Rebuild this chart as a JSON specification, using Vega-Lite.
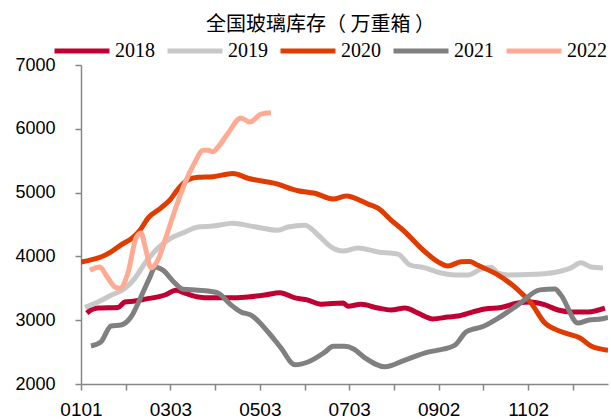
{
  "$schema": "https://vega.github.io/schema/vega-lite/v6.json",
  "width": 527,
  "height": 319,
  "autosize": {"type": "none"},
  "padding": {"left": 81, "top": 65, "right": 3, "bottom": 35},
  "background": "white",
  "title": {"text": "全国玻璃库存（ 万重箱 ）", "font": "Noto Sans CJK SC", "fontSize": 20, "fontWeight": "normal", "color": "#000000", "anchor": "middle", "dx": -24, "offset": -14},
  "config": {"view": {"stroke": null}},
  "data": {"values": [
    {"year": "2018", "d": 4, "v": 3110}, {"year": "2018", "d": 6.8, "v": 3160}, {"year": "2018", "d": 11.6, "v": 3190}, {"year": "2018", "d": 25.2, "v": 3200}, {"year": "2018", "d": 30, "v": 3285}, {"year": "2018", "d": 36.8, "v": 3300}, {"year": "2018", "d": 43.7, "v": 3330}, {"year": "2018", "d": 57.3, "v": 3395}, {"year": "2018", "d": 64.8, "v": 3470}, {"year": "2018", "d": 70.9, "v": 3425}, {"year": "2018", "d": 79.8, "v": 3365}, {"year": "2018", "d": 88.7, "v": 3350}, {"year": "2018", "d": 100.3, "v": 3350}, {"year": "2018", "d": 113.9, "v": 3365}, {"year": "2018", "d": 125.5, "v": 3395}, {"year": "2018", "d": 135.7, "v": 3430}, {"year": "2018", "d": 146, "v": 3350}, {"year": "2018", "d": 154.8, "v": 3315}, {"year": "2018", "d": 163.7, "v": 3250}, {"year": "2018", "d": 178.7, "v": 3270}, {"year": "2018", "d": 182.1, "v": 3220}, {"year": "2018", "d": 191, "v": 3250}, {"year": "2018", "d": 202.6, "v": 3190}, {"year": "2018", "d": 211.5, "v": 3160}, {"year": "2018", "d": 221, "v": 3190}, {"year": "2018", "d": 229.9, "v": 3110}, {"year": "2018", "d": 240.1, "v": 3020}, {"year": "2018", "d": 250.3, "v": 3050}, {"year": "2018", "d": 257.2, "v": 3065}, {"year": "2018", "d": 267.4, "v": 3130}, {"year": "2018", "d": 275.6, "v": 3175}, {"year": "2018", "d": 286.5, "v": 3200}, {"year": "2018", "d": 298.1, "v": 3270}, {"year": "2018", "d": 307, "v": 3285}, {"year": "2018", "d": 316.5, "v": 3240}, {"year": "2018", "d": 325.4, "v": 3160}, {"year": "2018", "d": 334.2, "v": 3130}, {"year": "2018", "d": 345.8, "v": 3130}, {"year": "2018", "d": 357.4, "v": 3190},
    {"year": "2019", "d": 2.7, "v": 3200}, {"year": "2019", "d": 11.6, "v": 3285}, {"year": "2019", "d": 20.5, "v": 3390}, {"year": "2019", "d": 30, "v": 3500}, {"year": "2019", "d": 36.8, "v": 3660}, {"year": "2019", "d": 43.7, "v": 3895}, {"year": "2019", "d": 52.5, "v": 4130}, {"year": "2019", "d": 61.4, "v": 4285}, {"year": "2019", "d": 70.9, "v": 4380}, {"year": "2019", "d": 79.8, "v": 4460}, {"year": "2019", "d": 90, "v": 4475}, {"year": "2019", "d": 103.7, "v": 4520}, {"year": "2019", "d": 116, "v": 4475}, {"year": "2019", "d": 134.4, "v": 4410}, {"year": "2019", "d": 141.2, "v": 4460}, {"year": "2019", "d": 152.8, "v": 4490}, {"year": "2019", "d": 161.7, "v": 4335}, {"year": "2019", "d": 170.5, "v": 4150}, {"year": "2019", "d": 178.7, "v": 4085}, {"year": "2019", "d": 188.9, "v": 4130}, {"year": "2019", "d": 202.6, "v": 4070}, {"year": "2019", "d": 216.2, "v": 4035}, {"year": "2019", "d": 224.4, "v": 3865}, {"year": "2019", "d": 234.7, "v": 3820}, {"year": "2019", "d": 245.6, "v": 3740}, {"year": "2019", "d": 255.1, "v": 3710}, {"year": "2019", "d": 264, "v": 3710}, {"year": "2019", "d": 272.9, "v": 3800}, {"year": "2019", "d": 279.7, "v": 3830}, {"year": "2019", "d": 284.4, "v": 3740}, {"year": "2019", "d": 291.3, "v": 3710}, {"year": "2019", "d": 309.7, "v": 3720}, {"year": "2019", "d": 320.6, "v": 3740}, {"year": "2019", "d": 334.2, "v": 3820}, {"year": "2019", "d": 341.1, "v": 3900}, {"year": "2019", "d": 347.9, "v": 3835}, {"year": "2019", "d": 356.1, "v": 3820},
    {"year": "2020", "d": 0, "v": 3910}, {"year": "2020", "d": 6.8, "v": 3945}, {"year": "2020", "d": 13.6, "v": 3990}, {"year": "2020", "d": 20.5, "v": 4070}, {"year": "2020", "d": 27.3, "v": 4180}, {"year": "2020", "d": 35.5, "v": 4300}, {"year": "2020", "d": 40.2, "v": 4410}, {"year": "2020", "d": 45.7, "v": 4600}, {"year": "2020", "d": 54.6, "v": 4760}, {"year": "2020", "d": 60.7, "v": 4885}, {"year": "2020", "d": 66.2, "v": 5055}, {"year": "2020", "d": 73, "v": 5200}, {"year": "2020", "d": 79.8, "v": 5240}, {"year": "2020", "d": 90, "v": 5250}, {"year": "2020", "d": 103.7, "v": 5300}, {"year": "2020", "d": 113.9, "v": 5225}, {"year": "2020", "d": 132.3, "v": 5145}, {"year": "2020", "d": 148, "v": 5030}, {"year": "2020", "d": 159.6, "v": 4990}, {"year": "2020", "d": 171.9, "v": 4900}, {"year": "2020", "d": 180.8, "v": 4945}, {"year": "2020", "d": 195.8, "v": 4820}, {"year": "2020", "d": 202.6, "v": 4755}, {"year": "2020", "d": 211.5, "v": 4570}, {"year": "2020", "d": 221, "v": 4385}, {"year": "2020", "d": 231.9, "v": 4130}, {"year": "2020", "d": 243.5, "v": 3915}, {"year": "2020", "d": 250.3, "v": 3850}, {"year": "2020", "d": 259.2, "v": 3915}, {"year": "2020", "d": 265.3, "v": 3920}, {"year": "2020", "d": 270.8, "v": 3860}, {"year": "2020", "d": 284.4, "v": 3710}, {"year": "2020", "d": 298.1, "v": 3475}, {"year": "2020", "d": 307, "v": 3270}, {"year": "2020", "d": 316.5, "v": 2955}, {"year": "2020", "d": 323.3, "v": 2860}, {"year": "2020", "d": 332.2, "v": 2785}, {"year": "2020", "d": 340.4, "v": 2720}, {"year": "2020", "d": 347.9, "v": 2595}, {"year": "2020", "d": 359.5, "v": 2530},
    {"year": "2021", "d": 6.8, "v": 2595}, {"year": "2021", "d": 13.6, "v": 2660}, {"year": "2021", "d": 20.5, "v": 2910}, {"year": "2021", "d": 27.3, "v": 2925}, {"year": "2021", "d": 34.1, "v": 3050}, {"year": "2021", "d": 40.9, "v": 3365}, {"year": "2021", "d": 47.1, "v": 3680}, {"year": "2021", "d": 50.5, "v": 3835}, {"year": "2021", "d": 55.9, "v": 3785}, {"year": "2021", "d": 64.1, "v": 3580}, {"year": "2021", "d": 69.6, "v": 3485}, {"year": "2021", "d": 79.8, "v": 3470}, {"year": "2021", "d": 90, "v": 3445}, {"year": "2021", "d": 93.5, "v": 3425}, {"year": "2021", "d": 102.3, "v": 3240}, {"year": "2021", "d": 109.1, "v": 3130}, {"year": "2021", "d": 116, "v": 3080}, {"year": "2021", "d": 127.6, "v": 2815}, {"year": "2021", "d": 136.4, "v": 2565}, {"year": "2021", "d": 146, "v": 2300}, {"year": "2021", "d": 154.8, "v": 2345}, {"year": "2021", "d": 166.4, "v": 2500}, {"year": "2021", "d": 172, "v": 2590}, {"year": "2021", "d": 180, "v": 2590}, {"year": "2021", "d": 186, "v": 2550}, {"year": "2021", "d": 193.7, "v": 2410}, {"year": "2021", "d": 207.4, "v": 2270}, {"year": "2021", "d": 221, "v": 2375}, {"year": "2021", "d": 236.7, "v": 2500}, {"year": "2021", "d": 243.5, "v": 2530}, {"year": "2021", "d": 255.1, "v": 2610}, {"year": "2021", "d": 262.6, "v": 2815}, {"year": "2021", "d": 267.4, "v": 2860}, {"year": "2021", "d": 272.9, "v": 2890}, {"year": "2021", "d": 284.4, "v": 3030}, {"year": "2021", "d": 298.1, "v": 3240}, {"year": "2021", "d": 313.1, "v": 3475}, {"year": "2021", "d": 323.3, "v": 3490}, {"year": "2021", "d": 327.4, "v": 3395}, {"year": "2021", "d": 339, "v": 2955}, {"year": "2021", "d": 345.8, "v": 3000}, {"year": "2021", "d": 354.7, "v": 3020}, {"year": "2021", "d": 359.5, "v": 3045},
    {"year": "2022", "d": 6.1, "v": 3785}, {"year": "2022", "d": 13, "v": 3835}, {"year": "2022", "d": 17, "v": 3710}, {"year": "2022", "d": 23.2, "v": 3520}, {"year": "2022", "d": 26.6, "v": 3500}, {"year": "2022", "d": 32, "v": 3740}, {"year": "2022", "d": 37.5, "v": 4285}, {"year": "2022", "d": 40.9, "v": 4365}, {"year": "2022", "d": 44.3, "v": 4100}, {"year": "2022", "d": 47.7, "v": 3820}, {"year": "2022", "d": 52.5, "v": 3945}, {"year": "2022", "d": 57.3, "v": 4255}, {"year": "2022", "d": 64.1, "v": 4725}, {"year": "2022", "d": 70.9, "v": 5150}, {"year": "2022", "d": 77.8, "v": 5480}, {"year": "2022", "d": 83.2, "v": 5665}, {"year": "2022", "d": 86.6, "v": 5665}, {"year": "2022", "d": 90, "v": 5640}, {"year": "2022", "d": 93.5, "v": 5715}, {"year": "2022", "d": 100.3, "v": 5930}, {"year": "2022", "d": 109.1, "v": 6170}, {"year": "2022", "d": 115.3, "v": 6105}, {"year": "2022", "d": 122.8, "v": 6230}, {"year": "2022", "d": 129.6, "v": 6250}
  ]},
  "mark": {"type": "line", "interpolate": "monotone", "strokeWidth": 5, "clip": true},
  "encoding": {
    "x": {
      "field": "d", "type": "quantitative",
      "scale": {"domain": [0, 359.5], "nice": false, "zero": false},
      "axis": {
        "title": null, "grid": false,
        "values": [0, 30.5, 61, 91.5, 122, 152.5, 183, 213.5, 244, 274.5, 305, 335.5],
        "labelExpr": "datum.value == 0 ? '0101' : datum.value == 61 ? '0303' : datum.value == 122 ? '0503' : datum.value == 183 ? '0703' : datum.value == 244 ? '0902' : datum.value == 305 ? '1102' : ''",
        "domainColor": "#868686", "domainWidth": 1.5, "tickColor": "#868686", "tickWidth": 1.5, "tickSize": 6,
        "labelFont": "Liberation Sans", "labelFontSize": 19, "labelColor": "#000000", "labelPadding": 10,
        "labelFlush": false, "labelOverlap": false, "labelBound": false
      }
    },
    "y": {
      "field": "v", "type": "quantitative",
      "scale": {"domain": [2000, 7000], "nice": false, "zero": false},
      "axis": {
        "title": null, "grid": false,
        "values": [2000, 3000, 4000, 5000, 6000, 7000], "format": "d",
        "domainColor": "#868686", "domainWidth": 1.5, "tickColor": "#868686", "tickWidth": 1.5, "tickSize": 6,
        "labelFont": "Liberation Sans", "labelFontSize": 18, "labelColor": "#000000", "labelPadding": 20,
        "labelFlush": false, "labelOverlap": false, "labelBound": false
      }
    },
    "color": {
      "field": "year", "type": "nominal",
      "scale": {"domain": ["2018", "2019", "2020", "2021", "2022"], "range": ["#C00032", "#C8C8C8", "#E03C00", "#808080", "#FFAB94"]},
      "legend": {
        "orient": "none", "legendX": -29, "legendY": -44, "direction": "horizontal", "title": null,
        "symbolType": "stroke", "symbolSize": 3025, "symbolStrokeWidth": 5,
        "labelFont": "Liberation Serif", "labelFontSize": 20, "labelColor": "#000000",
        "labelOffset": 3, "columnPadding": 2, "labelLimit": 200
      }
    }
  }
}
